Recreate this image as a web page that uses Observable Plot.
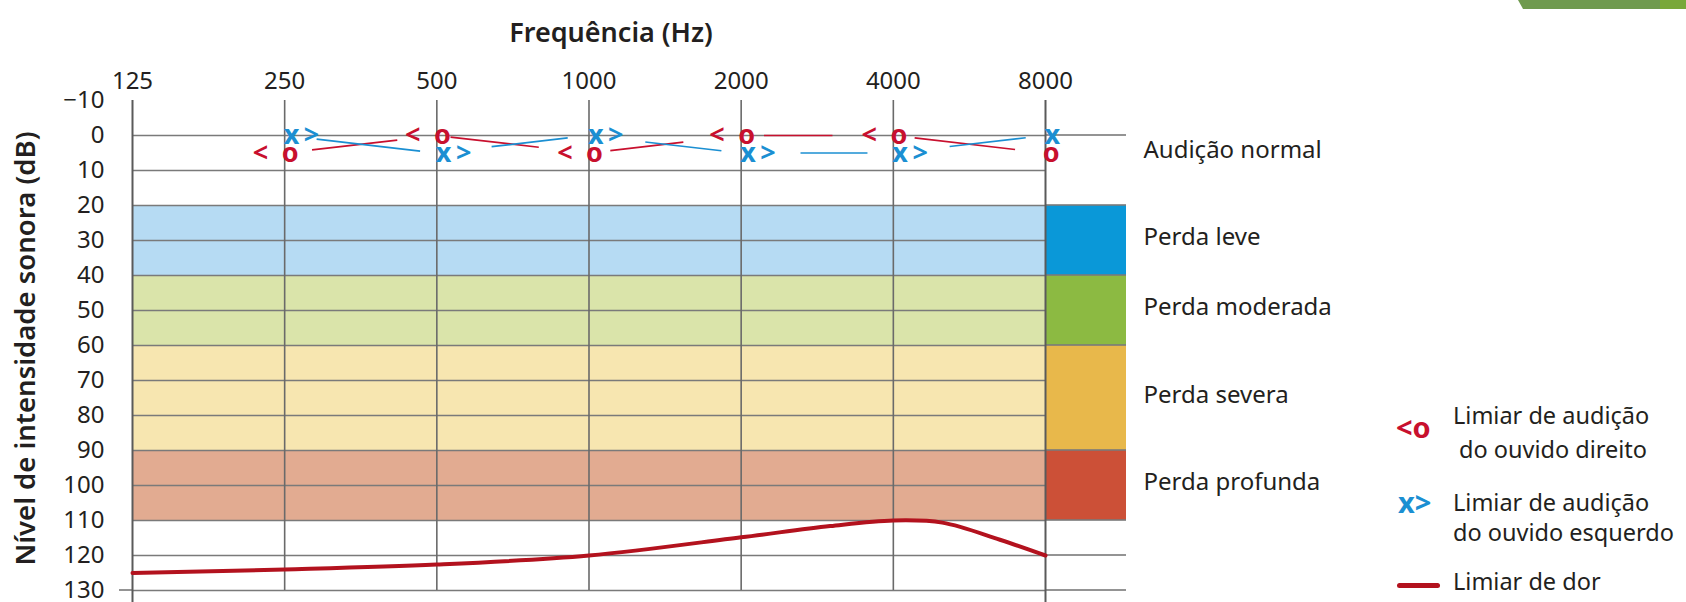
<!DOCTYPE html>
<html><head><meta charset="utf-8">
<script src="https://cdn.jsdelivr.net/npm/d3@7"></script>
<script src="https://cdn.jsdelivr.net/npm/@observablehq/plot@0.6"></script>
<style>
html,body{margin:0;padding:0;background:#fff;}
#wrap{position:relative;width:1686px;height:602px;overflow:hidden;font-family:"Noto Sans",sans-serif;color:#231f20;}
#wrap svg{position:absolute;left:0;top:0;}
.leg{position:absolute;font-size:23.5px;line-height:30px;white-space:nowrap;}
.sym{position:absolute;font-size:29px;font-weight:700;line-height:30px;}
#corner{position:absolute;left:1518px;top:0;width:168px;height:9px;background:#6f9a4e;clip-path:polygon(0 0,100% 0,100% 100%,3% 100%);}
#corner2{position:absolute;left:1660px;top:0;width:26px;height:9px;background:#79a83a;}
</style></head><body><div id="wrap">
<div id="corner"></div><div id="corner2"></div>
</div>
<script>
// ---- data ----
const freqs = [125, 250, 500, 1000, 2000, 4000, 8000];
const dbTicks = [-10, 0, 10, 20, 30, 40, 50, 60, 70, 80, 90, 100, 110, 120, 130];
const testFreqs = [250, 500, 1000, 2000, 4000, 8000];
const rightEar = [5, 0, 5, 0, 0, 5];          // "o" thresholds (dB)
const rightEarMark = [true, true, true, true, true, false]; // "<" shown
const leftEar = [0, 5, 0, 5, 5, 0];           // "x" thresholds (dB)
const leftEarMark = [true, true, true, true, true, false];  // ">" shown
const painFreq = [125, 250, 500, 1000, 2000, 3000, 4000, 5000, 6500, 8000];
const painDb = [125, 124, 122.6, 120, 114.8, 111.6, 110, 110.6, 115.5, 120];
const bandNames = ["Audição normal", "Perda leve", "Perda moderada", "Perda severa", "Perda profunda"];
const bandLow = [-10, 20, 40, 60, 90];
const bandHigh = [20, 40, 60, 90, 110];
const titleX = "Frequência (Hz)";
const titleY = "Nível de intensidade sonora (dB)";

// ---- style ----
const bandLight = [null, "#b6dbf3", "#dae4aa", "#f7e6b0", "#e2ab91"];
const bandStrong = [null, "#0a98d8", "#8cba42", "#e8b84b", "#cc5037"];
const RED = "#c8102e", BLUE = "#1b8fd2", GRID = "#7a7a7a", PAIN = "#b3121e";
const colW = 81;
const redTrim = [[0.18, 0.74], [0.09, 0.67], [0.14, 0.62], [0.15, 0.6], [0.14, 0.8]];
const blueTrim = [[0.21, 0.89], [0.36, 0.86], [0.37, 0.87], [0.39, 0.83], [0.37, 0.87]];

// ---- derived tables ----
const right = testFreqs.map((f, i) => ({f, db: rightEar[i], mark: rightEarMark[i]}));
const left = testFreqs.map((f, i) => ({f, db: leftEar[i], mark: leftEarMark[i]}));
const pain = painFreq.map((f, i) => ({f, db: painDb[i]}));
const bands = bandNames.map((name, i) => ({name, lo: bandLow[i], hi: bandHigh[i], light: bandLight[i], strong: bandStrong[i]}));
function segs(pts, trims) {
  const out = [];
  for (let i = 0; i < pts.length - 1; i++) {
    const a = pts[i], b = pts[i + 1], [t0, t1] = trims[i];
    const at = t => ({f: a.f * Math.pow(b.f / a.f, t), db: a.db + (b.db - a.db) * t});
    const p = at(t0), q = at(t1);
    out.push({x1: p.f, y1: p.db, x2: q.f, y2: q.db});
  }
  return out;
}
const redSegs = segs(right, redTrim);
const blueSegs = segs(left, blueTrim);
const colLines = [0, 20, 40, 60, 90, 110, 120, 130];
const gridLines = dbTicks.filter(d => d >= 0);
const F0 = freqs[0], F1 = freqs[freqs.length - 1];

const W = 1686, H = 602;
const chart = Plot.plot({
  width: W, height: H,
  marginLeft: 132, marginRight: W - 1045, marginTop: 100, marginBottom: 12,
  style: {fontFamily: "Noto Sans", fontSize: "24px", color: "#231f20", background: "transparent", overflow: "visible"},
  x: {type: "log", base: 2, domain: [F0, F1], ticks: freqs, tickFormat: d => String(d), axis: "top", tickSize: 0, tickPadding: 12, label: null},
  y: {domain: [dbTicks[0], dbTicks[dbTicks.length - 1]], reverse: true, ticks: dbTicks, tickSize: 0, tickPadding: 28,
      tickFormat: d => d < 0 ? "\u2212" + (-d) : String(d), label: null},
  marks: [
    Plot.rect(bands.filter(b => b.light), {x1: () => F0, x2: () => F1, y1: "lo", y2: "hi", fill: "light"}),
    Plot.rect(bands.filter(b => b.strong), {x1: () => F1, x2: () => F1, insetRight: -colW, y1: "lo", y2: "hi", fill: "strong"}),
    Plot.ruleY(gridLines, {x1: () => F0, x2: () => F1, stroke: GRID, strokeWidth: 1.6}),
    Plot.rect(colLines, {x1: () => F1, x2: () => F1, insetRight: -colW, y1: d => d, y2: d => d, insetTop: -0.8, insetBottom: -0.8, fill: GRID}),
    Plot.rect([dbTicks[dbTicks.length - 1]], {x1: () => F0, x2: () => F0, insetLeft: -13, y1: d => d, y2: d => d, insetTop: -0.8, insetBottom: -0.8, fill: GRID}),
    Plot.ruleX(freqs.slice(1, -1), {y1: () => dbTicks[0], y2: () => dbTicks[dbTicks.length - 1], stroke: "#6a6a6a", strokeWidth: 1.6}),
    Plot.ruleX([F0, F1], {y1: () => dbTicks[0], y2: () => dbTicks[dbTicks.length - 1], insetBottom: -12, stroke: "#5a5a5a", strokeWidth: 2}),
    Plot.line(pain, {x: "f", y: "db", stroke: PAIN, strokeWidth: 4, curve: "catmull-rom"}),
    Plot.link(redSegs, {x1: "x1", y1: "y1", x2: "x2", y2: "y2", stroke: RED, strokeWidth: 1.7}),
    Plot.link(blueSegs, {x1: "x1", y1: "y1", x2: "x2", y2: "y2", stroke: BLUE, strokeWidth: 1.7}),
    Plot.text(right, {x: "f", y: "db", text: d => d.mark ? "<\u2002o" : "o", textAnchor: "end", dx: 14, fill: RED, fontSize: 27, fontWeight: 700}),
    Plot.text(left, {x: "f", y: "db", text: d => d.mark ? "x\u2009>" : "x", textAnchor: "start", dx: -1, fill: BLUE, fontSize: 27, fontWeight: 700}),
    Plot.text(bands, {x: () => F1, y: d => (d.lo + d.hi) / 2, text: "name", dx: 98, dy: -3, textAnchor: "start", fontSize: 24, fill: "#231f20"}),
    Plot.text([titleX], {frameAnchor: "top", dx: 22, dy: -78, fontSize: 27, fontWeight: 600, fill: "#231f20"}),
    Plot.text([titleY], {frameAnchor: "left", rotate: -90, textAnchor: "middle", dx: -106, dy: 3, fontSize: 27.5, fontWeight: 600, fill: "#231f20"})
  ]
});
const wrap = document.getElementById("wrap");
wrap.insertBefore(chart, wrap.firstChild);

// legend (HTML)
function add(cls, html, x, y, color) {
  const d = document.createElement("div");
  d.className = cls; d.innerHTML = html; d.style.left = x + "px"; d.style.top = y + "px";
  if (color) d.style.color = color;
  wrap.appendChild(d);
}
add("sym", "&lt;o", 1396, 412, RED);
add("leg", "Limiar de audição", 1453, 400);
add("leg", "do ouvido direito", 1459, 434);
add("sym", "x&gt;", 1398, 487, BLUE);
add("leg", "Limiar de audição", 1453, 487);
add("leg", "do ouvido esquerdo", 1453, 517);
const ln = document.createElement("div");
ln.style.cssText = `position:absolute;left:1397px;top:583px;width:43px;height:5px;border-radius:3px;background:${PAIN};`;
wrap.appendChild(ln);
add("leg", "Limiar de dor", 1453, 566);
</script></body></html>
